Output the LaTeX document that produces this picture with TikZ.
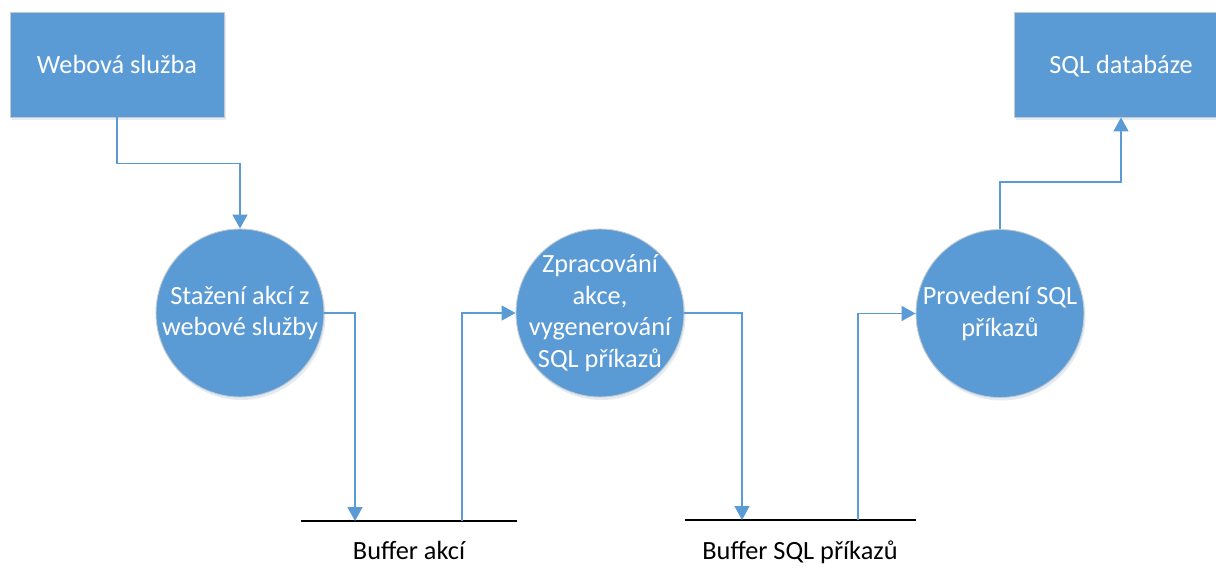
\documentclass[tikz,border=0pt]{standalone}
\usepackage{fontspec}
\setmainfont{Carlito}
\usetikzlibrary{arrows.meta,shadows}
\definecolor{officeblue}{HTML}{5B9BD5}
\definecolor{rim}{HTML}{C4CAD0}
\begin{document}
\begin{tikzpicture}[x=1pt,y=-1pt,
  softshadow/.style={drop shadow={shadow xshift=1.5pt,shadow yshift=-3pt,opacity=0.18,fill=officeblue!60!gray}},
  entity/.style={rectangle,fill=officeblue,draw=rim,line width=0.9pt,
    minimum width=214pt,minimum height=105pt,inner sep=0pt,
    text height=20pt,text depth=3pt,
    text=white,font=\fontsize{26.3}{31.5}\selectfont,softshadow},
  proc/.style={circle,fill=officeblue,draw=rim,line width=0.9pt,
    minimum size=168pt,inner sep=0pt,softshadow},
  proctext/.style={text=white,align=center,inner sep=0pt,
    font=\fontsize{26.3}{31.5}\selectfont},
  flow/.style={draw=officeblue,line width=1.6pt,
    -{Triangle[width=15pt,length=14pt]}},
  store/.style={draw=black,line width=1.4pt},
  storelabel/.style={text=black,inner sep=0pt,anchor=base,
    font=\fontsize{26.3}{31.5}\selectfont}
]
\useasboundingbox (0,0) rectangle (1216,581);

% external entities
\node[entity] (web) at (117,64.5) {Webová služba};
\node[entity] (db) at (1121,64.5) {SQL databáze};

% processes
\node[proc] (c1) at (240,313) {};
\node[proctext] (t1) at (c1) {Stažení akcí z\\webové služby};
\node[proc] (c2) at (600,313) {};
\node[proctext] (t2) at (c2) {Zpracování\\akce,\\vygenerování\\SQL příkazů};
\node[proc] (c3) at (1000,313.5) {};
\node[proctext] (t3) at (c3) {Provedení SQL\\příkazů};

% data stores
\coordinate (b1l) at (301,521);
\coordinate (b1r) at (517,521);
\coordinate (b1in) at (355,521);
\coordinate (b1out) at (462,521);
\coordinate (b2l) at (685,520);
\coordinate (b2r) at (916,520);
\coordinate (b2in) at (742,520);
\coordinate (b2out) at (858,520);
\draw[store] (b1l) -- (b1r);
\draw[store] (b2l) -- (b2r);
\node[storelabel] (s1) at (409,559) {Buffer akcí};
\node[storelabel] (s2) at (800,559) {Buffer SQL příkazů};

% flows
\draw[flow] (web.south) -- ++(0,46) -| (c1.north);
\draw[flow] (c1.east) -| (b1in);
\draw[flow] (b1out) |- (c2.west);
\draw[flow] (c2.east) -| (b2in);
\draw[flow] (b2out) |- (c3.west);
\draw[flow] (c3.north) -- ++(0,-47) -| (db.south);
\end{tikzpicture}
\end{document}
